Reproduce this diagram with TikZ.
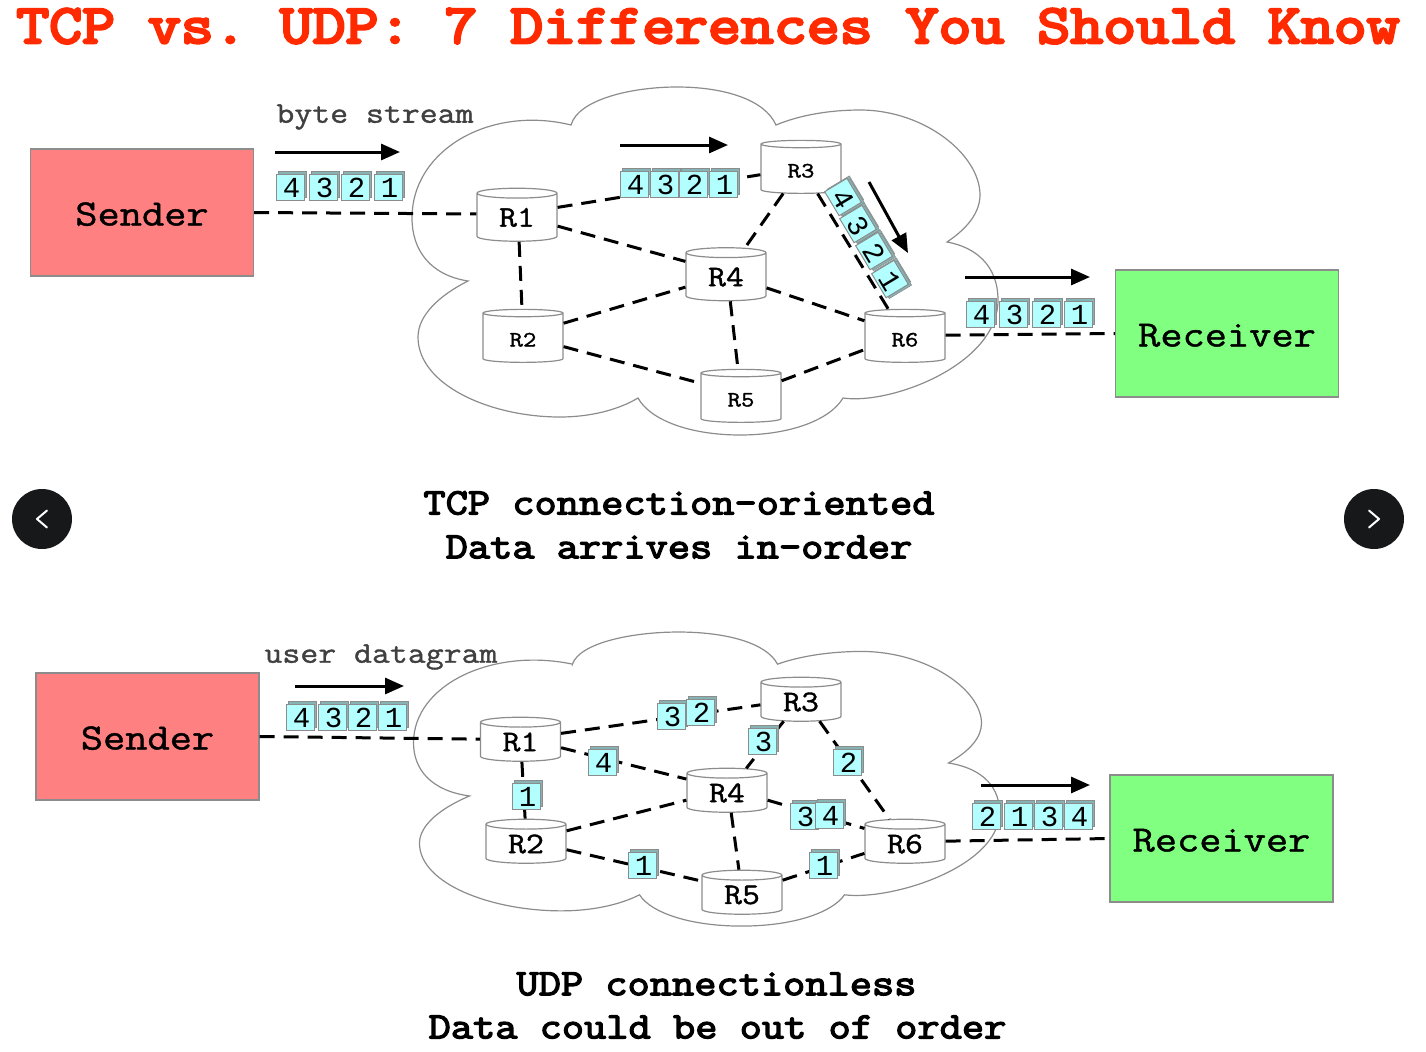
\documentclass[tikz,border=0pt]{standalone}
\usepackage{fontspec}
\usetikzlibrary{shapes.geometric}
\usetikzlibrary{shadows}
\usetikzlibrary{arrows.meta}
\newfontfamily\titlefont[FakeStretch=1.16,FakeBold=5]{Latin Modern Mono}
\newfontfamily\capfont[FakeStretch=1.16,FakeBold=3.5]{Latin Modern Mono}
\newfontfamily\boxfont[FakeStretch=1.16,FakeBold=1.2]{Latin Modern Mono}
\newfontfamily\pktfont{Liberation Mono}
\frenchspacing
\definecolor{sendred}{HTML}{FF8080}
\definecolor{recvgreen}{HTML}{80FF80}
\definecolor{pktfill}{HTML}{B3FFFF}
\definecolor{pktside}{HTML}{86B4B4}
\definecolor{edgegray}{HTML}{8C8C8C}
\definecolor{titlered}{HTML}{FF2A00}
\definecolor{navdark}{HTML}{16181A}
\newcommand{\cloudline}{%
\draw[cloudedge] (571,125) .. controls (490,105) and (412,150) .. (412,218)
 .. controls (412,250) and (430,275) .. (468,281)
 .. controls (440,295) and (418,315) .. (418,337)
 .. controls (418,385) and (490,417) .. (560,417)
 .. controls (590,417) and (618,410) .. (638,398)
 .. controls (650,420) and (690,435) .. (740,435)
 .. controls (790,435) and (830,420) .. (843,398)
 .. controls (890,405) and (998,365) .. (998,300)
 .. controls (998,265) and (975,247) .. (947,242)
 .. controls (968,228) and (980,212) .. (980,195)
 .. controls (980,155) and (925,110) .. (860,110)
 .. controls (830,110) and (800,115) .. (776,125)
 .. controls (765,100) and (725,87) .. (677,87)
 .. controls (630,87) and (578,100) .. cycle;}
\tikzset{
  cloudedge/.style={draw=edgegray,line width=0.6pt},
  hostbox/.style={draw=edgegray,line width=0.6pt,minimum width=111.5pt,minimum height=63.5pt,inner sep=0pt,text height=13pt,text depth=0pt,font=\boxfont\fontsize{18.6}{18.6}\selectfont},
  router/.style={cylinder,shape border rotate=90,aspect=0.275,draw=edgegray,line width=0.6pt,fill=white,minimum width=40pt,inner sep=0pt,font=\boxfont\fontsize{15}{15}\selectfont},
  smallname/.style={text height=8.5pt,text depth=0pt,font=\boxfont\fontsize{11}{11}\selectfont},
  link/.style={line width=1.5pt,dash pattern=on 7.5pt off 4.5pt},
  flow/.style={line width=1.5pt,-{Triangle[length=9.5pt,width=8pt]}},
  pkt/.style={draw=edgegray,line width=0.5pt,fill=pktfill,minimum width=14pt,minimum height=13pt,inner sep=0pt,text height=10.5pt,text depth=0pt,execute at begin node={\hspace*{1.5pt}},font=\pktfont\fontsize{14.5}{14.5}\selectfont,
    general shadow={fill=pktside,draw=edgegray,line width=0.3pt,shadow xshift=1.2pt,shadow yshift=1.2pt}},
  pktturned/.style={rotate=-59,general shadow={fill=pktside,draw=edgegray,line width=0.3pt,shadow xshift=1.6pt,shadow yshift=-0.4pt}},
  streamname/.style={text=black!75,font=\boxfont\fontsize{15}{15}\selectfont},
  caption/.style={font=\capfont\fontsize{18.6}{18.6}\selectfont},
  navbtn/.style={circle,fill=navdark,minimum size=30pt,inner sep=0pt},
  chevron/.style={draw=white,line width=1pt,line cap=round,line join=round}
}
\begin{document}
\begin{tikzpicture}[x=0.5pt,y=-0.5pt]
\useasboundingbox (0,0) rectangle (1426,1051);

%title
\node[text=titlered,font=\titlefont\fontsize{27.57}{27.57}\selectfont] (title) at (708,26) {TCP vs. UDP: 7 Differences You Should Know};

%TCP
\cloudline
\node[hostbox,fill=sendred] (send) at (142,212.5) {Sender};
\node[hostbox,fill=recvgreen] (recv) at (1227,333.5) {Receiver};
\node[router,minimum height=26.5pt] (r1) at (517,217.5) {R1};
\node[router,minimum height=26.5pt,smallname] (r2) at (523,338) {R2};
\node[router,minimum height=26.5pt,smallname] (r3) at (801,169) {R3};
\node[router,minimum height=26.5pt] (r4) at (726,277) {R4};
\node[router,minimum height=26.5pt,smallname] (r5) at (741,398) {R5};
\node[router,minimum height=26.5pt,smallname] (r6) at (905,338) {R6};

\draw[link] (send.east) -- (r1.175);
\draw[link] (r1.14.7) -- (r3.188.5);
\draw[link] (r1.-12) -- (r4.159.4);
\draw[link] (r1.-85) -- (r2.92);
\draw[link] (r2.20.6) -- (r4.194);
\draw[link] (r2.-12.7) -- (r5.160.7);
\draw[link] (r3.234.7) -- (r4.57);
\draw[link] (r3.-56) -- (r6.120.5);
\draw[link] (r4.-80.5) -- (r5.96);
\draw[link] (r4.-15.4) -- (r6.157);
\draw[link] (r5.23) -- (r6.196.7);
\draw[link] (r6.4) -- (recv.west);

\node[streamname] (bytes) at (375,117) {byte stream};

\node[pkt] (a4) at (290,187) {4};
\node[pkt] (a3) at (323,187) {3};
\node[pkt] (a2) at (355,187) {2};
\node[pkt] (a1) at (388,187) {1};

\node[pkt] (b4) at (634,184) {4};
\node[pkt] (b3) at (664,184) {3};
\node[pkt] (b2) at (693,184) {2};
\node[pkt] (b1) at (723,184) {1};

\node[pkt,pktturned] (c4) at (843,197) {4};
\node[pkt,pktturned] (c3) at (858,224) {3};
\node[pkt,pktturned] (c2) at (874,251) {2};
\node[pkt,pktturned] (c1) at (890,279) {1};

\node[pkt] (d4) at (980,314) {4};
\node[pkt] (d3) at (1013,314) {3};
\node[pkt] (d2) at (1046,314) {2};
\node[pkt] (d1) at (1078,314) {1};

\coordinate (fa) at (275,152);
\coordinate (fb) at (400,152);
\coordinate (fc) at (620,145);
\coordinate (fd) at (728,145);
\coordinate (fe) at (869,182);
\coordinate (ff) at (908,253);
\coordinate (fg) at (965,277);
\coordinate (fh) at (1090,277);
\draw[flow] (fa) -- (fb);
\draw[flow] (fc) -- (fd);
\draw[flow] (fe) -- (ff);
\draw[flow] (fg) -- (fh);

\node[caption] (tcpa) at (679,503) {TCP connection-oriented};
\node[caption] (tcpb) at (679,547) {Data arrives in-order};

%buttons
\node[navbtn] (prev) at (42,519) {};
\node[navbtn] (next) at (1374,519) {};
\draw[chevron] ([shift={(5,-8.5)}]prev.center) -- ([shift={(-5,0)}]prev.center) -- ([shift={(5,8.5)}]prev.center);
\draw[chevron] ([shift={(-5,-8.5)}]next.center) -- ([shift={(5,0)}]next.center) -- ([shift={(-5,8.5)}]next.center);

%UDP
\begin{scope}[shift={(1.5,558.5)},yscale=0.845]
\cloudline
\end{scope}
\node[hostbox,fill=sendred] (usend) at (147.5,736.5) {Sender};
\node[hostbox,fill=recvgreen] (urecv) at (1221.5,838.5) {Receiver};
\node[router,minimum height=22pt] (u1) at (520.5,742) {R1};
\node[router,minimum height=22pt] (u2) at (526,844) {R2};
\node[router,minimum height=22pt] (u3) at (801,702) {R3};
\node[router,minimum height=22pt] (u4) at (727,793) {R4};
\node[router,minimum height=22pt] (u5) at (742,895) {R5};
\node[router,minimum height=22pt] (u6) at (905,844) {R6};

\draw[link] (usend.east) -- (u1.176);
\draw[link] (u1.12.8) -- (u3.184.4);
\draw[link] (u1.-8.6) -- (u4.161.6);
\draw[link] (u1.-86) -- (u2.92);
\draw[link] (u2.18) -- (u4.190);
\draw[link] (u2.-8.5) -- (u5.161.6);
\draw[link] (u3.228) -- (u4.52.8);
\draw[link] (u3.-46.6) -- (u6.122);
\draw[link] (u4.-78) -- (u5.97);
\draw[link] (u4.-10) -- (u6.159);
\draw[link] (u5.20.6) -- (u6.193);
\draw[link] (u6.4) -- (urecv.west);

\node[streamname] (grams) at (381,657) {user datagram};

\node[pkt] (e4) at (300,717) {4};
\node[pkt] (e3) at (332,717) {3};
\node[pkt] (e2) at (362,717) {2};
\node[pkt] (e1) at (392,717) {1};

\node[pkt] (p3) at (671,716) {3};
\node[pkt] (p2) at (700,712) {2};
\node[pkt] (q4) at (602,762) {4};
\node[pkt] (q1) at (526,796) {1};
\node[pkt] (s3) at (762,741) {3};
\node[pkt] (s2) at (847,762) {2};
\node[pkt] (t3) at (804,816) {3};
\node[pkt] (t4) at (829,815) {4};
\node[pkt] (v1) at (642,865) {1};
\node[pkt] (w1) at (823,865) {1};

\node[pkt] (g2) at (986,816) {2};
\node[pkt] (g1) at (1018,816) {1};
\node[pkt] (g3) at (1048,816) {3};
\node[pkt] (g4) at (1078,816) {4};

\coordinate (ga) at (295,686);
\coordinate (gb) at (404,686);
\coordinate (gc) at (981,785);
\coordinate (gd) at (1090,785);
\draw[flow] (ga) -- (gb);
\draw[flow] (gc) -- (gd);

\node[caption] (udpa) at (716.5,984) {UDP connectionless};
\node[caption] (udpb) at (717.5,1027) {Data could be out of order};

\end{tikzpicture}
\end{document}
